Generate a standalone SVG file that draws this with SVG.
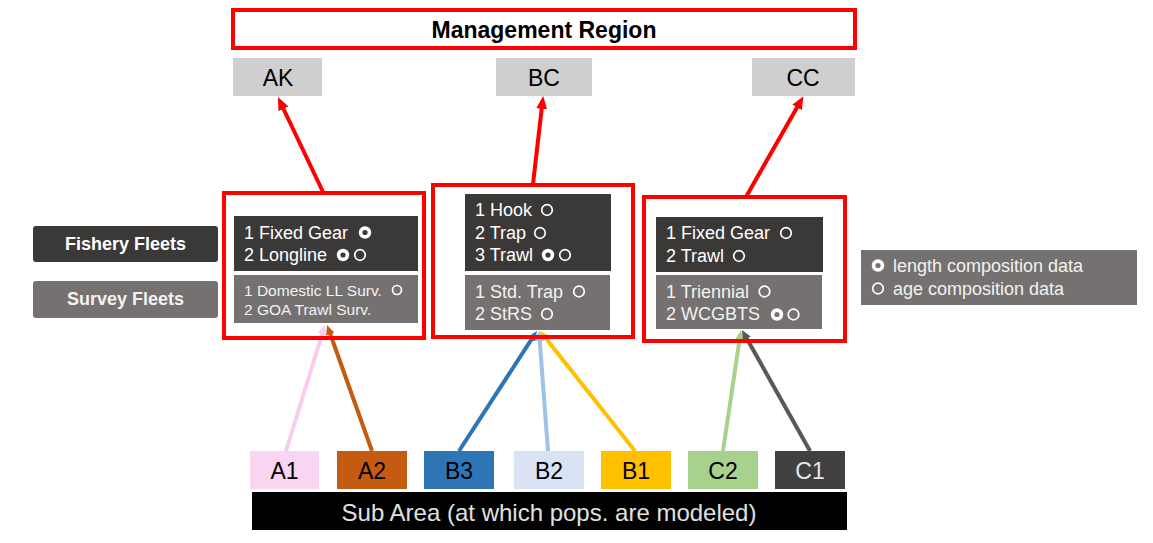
<svg xmlns="http://www.w3.org/2000/svg" width="1153" height="543" viewBox="0 0 1153 543">
<style>
  text { font-family: "Liberation Sans", Arial, sans-serif; }
  .redbox { fill: none; stroke: #FF0000; stroke-width: 4; }
  .region { fill: #D0CECE; }
  .fish { fill: #3B3838; }
  .surv { fill: #767171; }
  .t18w { font-size: 18px; fill: #FFFFFF; }
  .t18s { font-size: 18px; fill: #F2F2F2; }
  .t15s { font-size: 15.5px; fill: #F2F2F2; }
  .big { font-size: 23px; fill: #000000; text-anchor: middle; }
  .lbl { font-size: 18px; font-weight: bold; text-anchor: middle; }
  .dot { fill: #FFFFFF; }
  .ring { fill: none; stroke: #FFFFFF; stroke-width: 1.7; }
  .conn { fill: none; stroke-width: 4; }
</style>
<defs>
  <marker id="ahRed" viewBox="0 0 13 11" refX="2" refY="5.5" markerWidth="13" markerHeight="11" markerUnits="userSpaceOnUse" orient="auto"><path d="M0,0 L13,5.5 L0,11 z" fill="#FF0000"/></marker>
  <marker id="ahA1" viewBox="0 0 10 9" refX="2" refY="4.5" markerWidth="10" markerHeight="9" markerUnits="userSpaceOnUse" orient="auto"><path d="M0,0 L10,4.5 L0,9 z" fill="#F6CDEF"/></marker>
  <marker id="ahA2" viewBox="0 0 10 9" refX="2" refY="4.5" markerWidth="10" markerHeight="9" markerUnits="userSpaceOnUse" orient="auto"><path d="M0,0 L10,4.5 L0,9 z" fill="#C55A11"/></marker>
  <marker id="ahB3" viewBox="0 0 10 9" refX="2" refY="4.5" markerWidth="10" markerHeight="9" markerUnits="userSpaceOnUse" orient="auto"><path d="M0,0 L10,4.5 L0,9 z" fill="#2E75B6"/></marker>
  <marker id="ahB2" viewBox="0 0 10 9" refX="2" refY="4.5" markerWidth="10" markerHeight="9" markerUnits="userSpaceOnUse" orient="auto"><path d="M0,0 L10,4.5 L0,9 z" fill="#9DC3E6"/></marker>
  <marker id="ahB1" viewBox="0 0 10 9" refX="2" refY="4.5" markerWidth="10" markerHeight="9" markerUnits="userSpaceOnUse" orient="auto"><path d="M0,0 L10,4.5 L0,9 z" fill="#FFC000"/></marker>
  <marker id="ahC2" viewBox="0 0 10 9" refX="2" refY="4.5" markerWidth="10" markerHeight="9" markerUnits="userSpaceOnUse" orient="auto"><path d="M0,0 L10,4.5 L0,9 z" fill="#A9D18E"/></marker>
  <marker id="ahC1" viewBox="0 0 10 9" refX="2" refY="4.5" markerWidth="10" markerHeight="9" markerUnits="userSpaceOnUse" orient="auto"><path d="M0,0 L10,4.5 L0,9 z" fill="#595959"/></marker>
</defs>
<rect width="1153" height="543" fill="#FFFFFF"/>

<g id="connectors">
  <line class="conn" x1="323" y1="192" x2="282.6" y2="107" stroke="#FF0000" marker-end="url(#ahRed)"/>
  <line class="conn" x1="533" y1="184" x2="541.9" y2="106.9" stroke="#FF0000" marker-end="url(#ahRed)"/>
  <line class="conn" x1="746" y1="197" x2="798" y2="105.7" stroke="#FF0000" marker-end="url(#ahRed)"/>
  <line class="conn" x1="286" y1="451" x2="322.6" y2="332.6" stroke="#F6CDEF" marker-end="url(#ahA1)"/>
  <line class="conn" x1="372" y1="451" x2="329.7" y2="332.5" stroke="#C55A11" marker-end="url(#ahA2)"/>
  <line class="conn" x1="459" y1="451" x2="532.6" y2="337.7" stroke="#2E75B6" marker-end="url(#ahB3)"/>
  <line class="conn" x1="548" y1="451" x2="539.6" y2="339" stroke="#9DC3E6" marker-end="url(#ahB2)"/>
  <line class="conn" x1="635" y1="451" x2="545" y2="337.3" stroke="#FFC000" marker-end="url(#ahB1)"/>
  <line class="conn" x1="723" y1="451" x2="739.8" y2="337.9" stroke="#A9D18E" marker-end="url(#ahC2)"/>
  <line class="conn" x1="810" y1="451" x2="745.9" y2="337" stroke="#595959" marker-end="url(#ahC1)"/>
</g>

<g id="management-region">
  <rect class="redbox" x="233" y="10" width="622" height="38"/>
  <text x="544" y="38" font-size="23" font-weight="bold" text-anchor="middle">Management Region</text>
</g>

<g id="AK">
  <rect class="region" x="233" y="58" width="89" height="38"/>
  <text class="big" x="278" y="86">AK</text>
</g>
<g id="BC">
  <rect class="region" x="496" y="58" width="96" height="38"/>
  <text class="big" x="544" y="86">BC</text>
</g>
<g id="CC">
  <rect class="region" x="752" y="58" width="103" height="38"/>
  <text class="big" x="803" y="86">CC</text>
</g>

<g id="fishery-fleets-label">
  <rect class="fish" x="33" y="226" width="185" height="36" rx="3"/>
  <text class="lbl" x="125.5" y="250" fill="#FFFFFF">Fishery Fleets</text>
</g>
<g id="survey-fleets-label">
  <rect class="surv" x="33" y="281" width="185" height="37" rx="3"/>
  <text class="lbl" x="125.5" y="305" fill="#F2F2F2">Survey Fleets</text>
</g>

<g id="fleets-AK">
  <rect class="fish" x="234" y="216" width="184" height="55"/>
  <rect class="surv" x="234" y="275" width="184" height="48"/>
  <rect class="redbox" x="224" y="193" width="200" height="145"/>
  <text class="t18w" x="244" y="239">1 Fixed Gear</text>
  <text class="t18w" x="244" y="261">2 Longline</text>
  <circle class="dot" cx="365" cy="232.5" r="6.2"/><circle cx="365" cy="232.5" r="2.6" fill="#3B3838"/>
  <circle class="dot" cx="343" cy="255" r="6.2"/><circle cx="343" cy="255" r="2.6" fill="#3B3838"/>
  <circle class="ring" cx="360" cy="255" r="5.3"/>
  <text class="t15s" x="244" y="296">1 Domestic LL Surv.</text>
  <text class="t15s" x="244" y="315">2 GOA Trawl Surv.</text>
  <circle class="ring" cx="397" cy="290" r="4.5" stroke-width="1.5"/>
</g>

<g id="fleets-BC">
  <rect class="fish" x="465" y="194" width="146" height="77"/>
  <rect class="surv" x="465" y="275" width="145" height="55"/>
  <rect class="redbox" x="433" y="185" width="200" height="152"/>
  <text class="t18w" x="475" y="216">1 Hook</text>
  <text class="t18w" x="475" y="239">2 Trap</text>
  <text class="t18w" x="475" y="261">3 Trawl</text>
  <circle class="ring" cx="547" cy="210" r="5.3"/>
  <circle class="ring" cx="540" cy="233" r="5.3"/>
  <circle class="dot" cx="548" cy="255" r="6.2"/><circle cx="548" cy="255" r="2.6" fill="#3B3838"/>
  <circle class="ring" cx="565" cy="255" r="5.3"/>
  <text class="t18s" x="475" y="297.5">1 Std. Trap</text>
  <text class="t18s" x="475" y="319.5">2 StRS</text>
  <circle class="ring" cx="579" cy="291.5" r="5.3"/>
  <circle class="ring" cx="547" cy="314" r="5.3"/>
</g>

<g id="fleets-CC">
  <rect class="fish" x="656" y="217" width="167" height="55"/>
  <rect class="surv" x="656" y="275" width="166" height="54"/>
  <rect class="redbox" x="644" y="197" width="201" height="144"/>
  <text class="t18w" x="666" y="239">1 Fixed Gear</text>
  <text class="t18w" x="666" y="262">2 Trawl</text>
  <circle class="ring" cx="786" cy="233" r="5.3"/>
  <circle class="ring" cx="739" cy="256" r="5.3"/>
  <text class="t18s" x="666" y="297.5">1 Triennial</text>
  <text class="t18s" x="666" y="320">2 WCGBTS</text>
  <circle class="ring" cx="764.5" cy="291.5" r="5.3"/>
  <circle class="dot" cx="777" cy="314.5" r="6.2"/><circle cx="777" cy="314.5" r="2.6" fill="#767171"/>
  <circle class="ring" cx="793.5" cy="314.5" r="5.3"/>
</g>

<g id="legend">
  <rect class="surv" x="861" y="250" width="276" height="55"/>
  <circle class="dot" cx="878" cy="265.5" r="6.2"/><circle cx="878" cy="265.5" r="2.6" fill="#767171"/>
  <circle class="ring" cx="878" cy="288.5" r="5.3"/>
  <text class="t18s" x="893" y="272">length composition data</text>
  <text class="t18s" x="893" y="295">age composition data</text>
</g>

<g id="A1"><rect x="250" y="451" width="69" height="38" fill="#F9D5F2"/><text class="big" x="284.5" y="479">A1</text></g>
<g id="A2"><rect x="337" y="451" width="70" height="38" fill="#C55A11"/><text class="big" x="372" y="479">A2</text></g>
<g id="B3"><rect x="424" y="451" width="70" height="38" fill="#2E75B6"/><text class="big" x="459" y="479">B3</text></g>
<g id="B2"><rect x="514" y="451" width="70" height="38" fill="#DAE3F3"/><text class="big" x="549" y="479">B2</text></g>
<g id="B1"><rect x="601" y="451" width="70" height="38" fill="#FFC000"/><text class="big" x="636" y="479">B1</text></g>
<g id="C2"><rect x="688" y="451" width="70" height="38" fill="#A9D18E"/><text class="big" x="723" y="479">C2</text></g>
<g id="C1"><rect x="775" y="451" width="70" height="38" fill="#404040"/><text class="big" x="810" y="479" style="fill:#E6E6E6">C1</text></g>

<g id="sub-area">
  <rect x="252" y="492" width="595" height="38" fill="#000000"/>
  <text x="549" y="521" font-size="24" fill="#E0E0E0" text-anchor="middle">Sub Area (at which pops. are modeled)</text>
</g>
</svg>
